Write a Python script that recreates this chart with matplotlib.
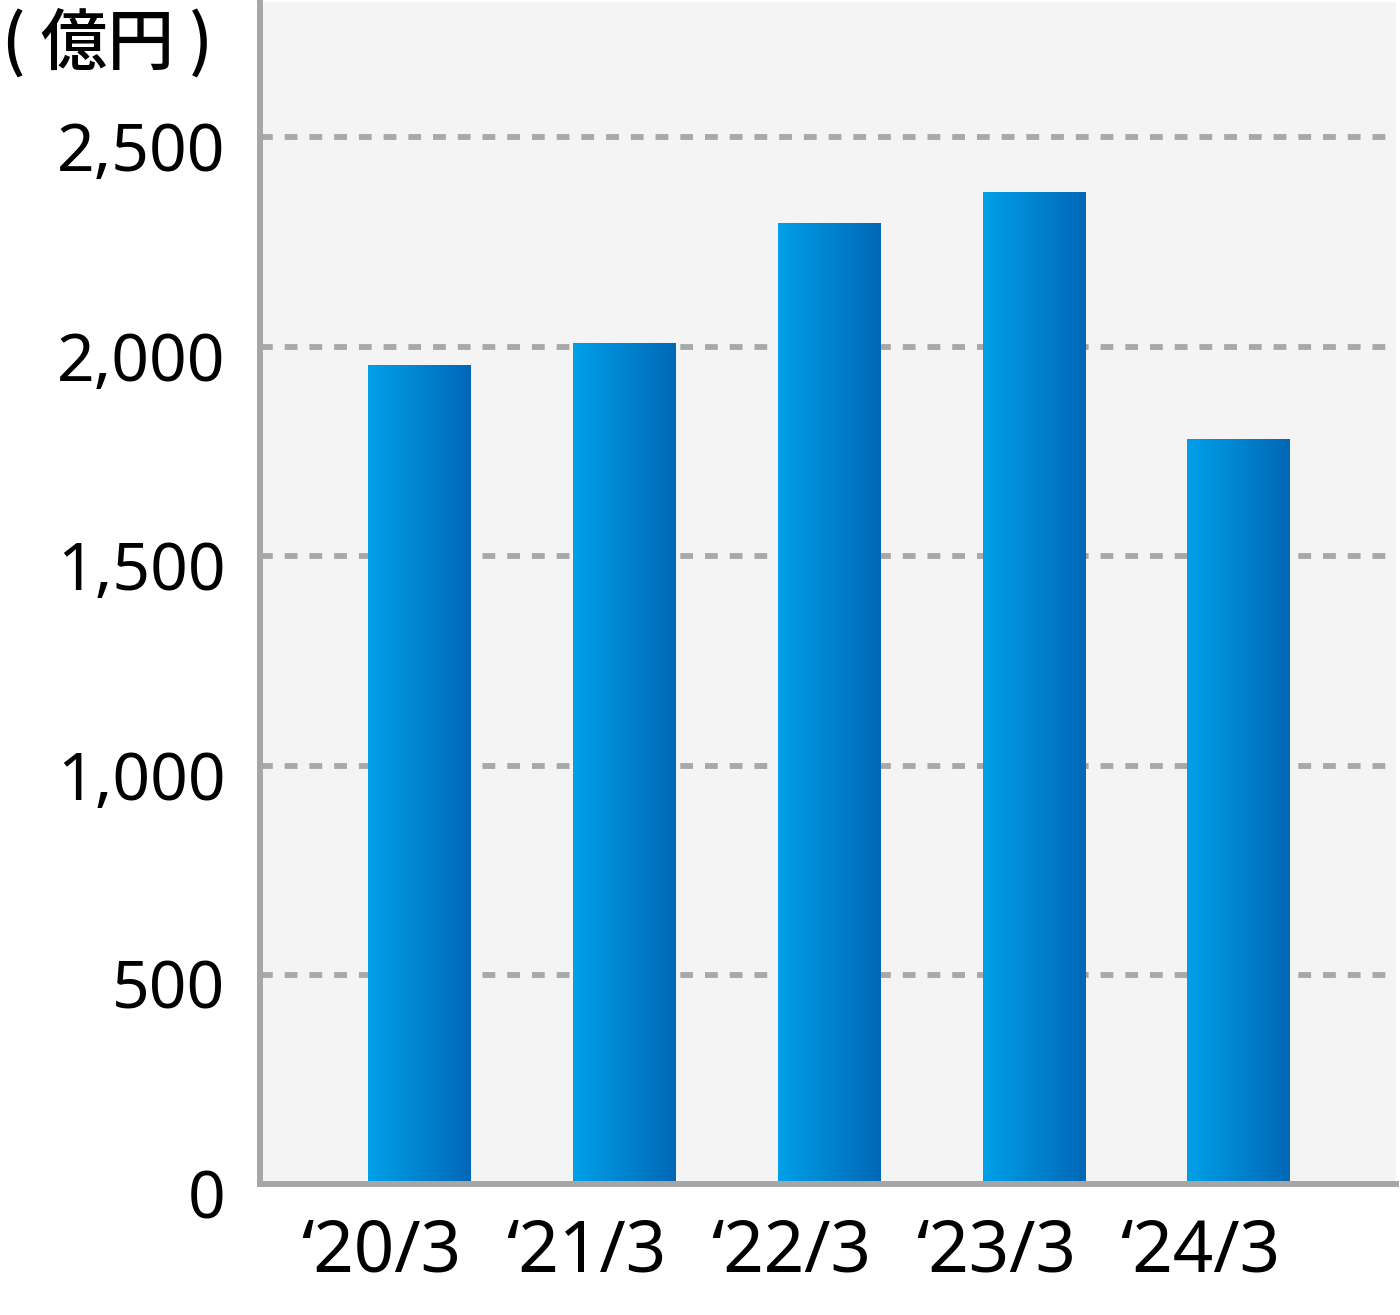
import matplotlib
matplotlib.use("Agg")
import matplotlib.pyplot as plt
import matplotlib.transforms as mtransforms
from matplotlib.colors import LinearSegmentedColormap
import numpy as np

categories = ["‘20/3", "‘21/3", "‘22/3", "‘23/3", "‘24/3"]
values = [1956, 2008, 2296, 2369, 1780]
yticks = [0, 500, 1000, 1500, 2000, 2500]
ytick_labels = ["0", "500", "1,000", "1,500", "2,000", "2,500"]
unit_label = "( 億円 )"

plt.rcParams['font.family'] = ['Noto Sans', 'DejaVu Sans']
plt.rcParams['lines.scale_dashes'] = False

fig = plt.figure(figsize=(14, 13.15), dpi=100)
ax = fig.add_axes([260/1400, (1315-1184.4)/1315, (1396-260)/1400, (1184.4-2)/1315])
ax.set_facecolor("#f4f4f4")

x = np.arange(len(categories))
bars = ax.bar(x, values, width=0.5, color="#0088d6", zorder=3, linewidth=0)

cmap = LinearSegmentedColormap.from_list("g", ["#00a0e9", "#0068b6"])
grad = np.linspace(0, 1, 256).reshape(1, -1)
for b in bars:
    x0, y0 = b.get_x(), b.get_y()
    w, h = b.get_width(), b.get_height()
    im = ax.imshow(grad, cmap=cmap, aspect="auto", extent=(x0, x0 + w, y0, y0 + h),
                   zorder=4, interpolation="bicubic")
    im.set_clip_path(b)

ax.set_xlim(-0.78, 4.77)
ax.set_ylim(0, 2823)

ax.set_yticks(yticks)
ax.set_yticklabels(ytick_labels, fontsize=47.5)
ax.set_xticks(x)
ax.set_xticklabels(categories, fontsize=51)
ax.tick_params(axis="both", length=0)
ax.tick_params(axis="y", pad=25)
ax.tick_params(axis="x", pad=24)

offset = mtransforms.ScaledTranslation(-38/100, 0, fig.dpi_scale_trans)
for lbl in ax.get_xticklabels():
    lbl.set_transform(lbl.get_transform() + offset)
yoff = mtransforms.ScaledTranslation(0, -9/100, fig.dpi_scale_trans)
for lbl in ax.get_yticklabels():
    lbl.set_transform(lbl.get_transform() + yoff)

for v in yticks[1:]:
    ax.axhline(v, color="#a8a8a8", linewidth=4.2, linestyle=(0, (9.2, 8.6)), zorder=2)

for s in ["top", "right"]:
    ax.spines[s].set_visible(False)
for s in ["left", "bottom"]:
    ax.spines[s].set_color("#a6a6a6")
    ax.spines[s].set_linewidth(4.3)
    ax.spines[s].set_zorder(5)

fig.text(2/1400, 1 - 44/1315, unit_label, fontsize=48, va="center", ha="left",
         weight=500, family=["Noto Sans CJK JP", "DejaVu Sans"])

fig.savefig("out.png", dpi=100, facecolor="white")
